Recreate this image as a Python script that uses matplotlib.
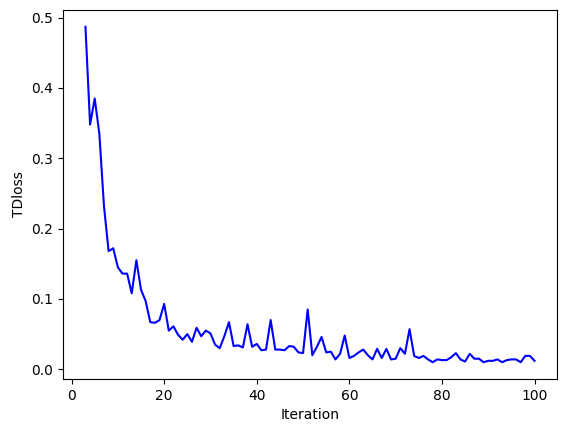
import numpy as np
from matplotlib import pyplot as plt

# iterations 3..100
iterations = np.arange(3, 101)

td_loss = [0.487, 0.348, 0.385, 0.335, 0.232, 0.168, 0.172, 0.145, 0.136, 0.136,
           0.108, 0.155, 0.113, 0.097, 0.067, 0.066, 0.070, 0.093, 0.055, 0.061,
           0.049, 0.042, 0.050, 0.039, 0.059, 0.047, 0.055, 0.051, 0.035, 0.030,
           0.047, 0.067, 0.033, 0.034, 0.031, 0.064, 0.032, 0.036, 0.027, 0.028,
           0.070, 0.028, 0.028, 0.027, 0.033, 0.032, 0.024, 0.023, 0.085, 0.020,
           0.032, 0.046, 0.024, 0.025, 0.014, 0.022, 0.048, 0.016, 0.019, 0.024,
           0.028, 0.020, 0.014, 0.029, 0.016, 0.029, 0.014, 0.015, 0.030, 0.022,
           0.057, 0.019, 0.016, 0.019, 0.014, 0.010, 0.014, 0.013, 0.013, 0.017,
           0.023, 0.014, 0.011, 0.022, 0.015, 0.015, 0.010, 0.012, 0.012, 0.014,
           0.010, 0.013, 0.014, 0.014, 0.010, 0.019, 0.019, 0.012]

fig = plt.figure(figsize=(5.67, 4.32), dpi=100)
ax = fig.add_axes([63 / 567, 53 / 432, 494 / 567, 369 / 432])

ax.plot(iterations, td_loss, color='b')
ax.set_xlabel('Iteration')
ax.set_ylabel('TDloss')

fig.savefig('out.png', dpi=100)
